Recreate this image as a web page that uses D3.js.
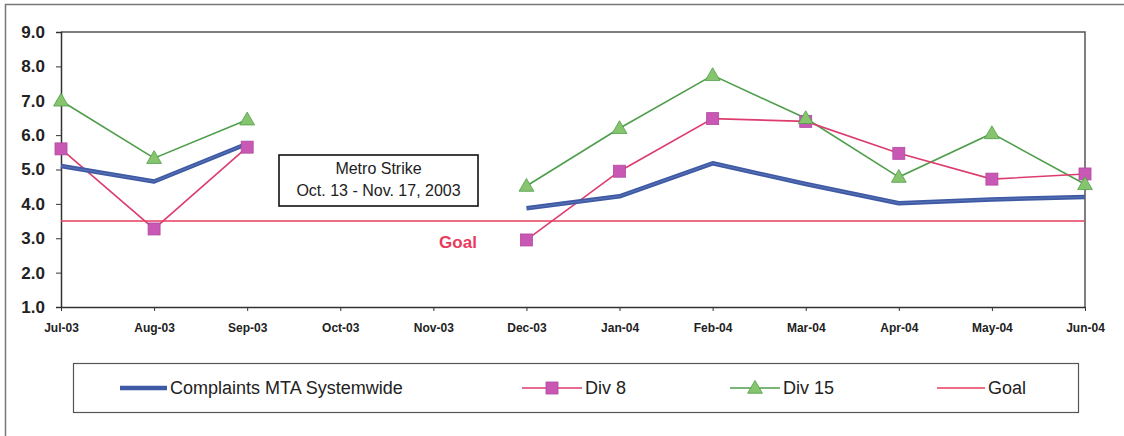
<!DOCTYPE html>
<html>
<head>
<meta charset="utf-8">
<script src="https://cdn.jsdelivr.net/npm/d3@7"></script>
<style>
  html, body { margin: 0; padding: 0; background: #fff; }
  svg { display: block; font-family: Arial, "Liberation Sans", sans-serif; }
</style>
</head>
<body>
<svg id="chart" width="1124" height="436"></svg>
<script>
// Monthly categories (Oct/Nov 2003 have no data: Metro strike)
const months = ["Jul-03","Aug-03","Sep-03","Oct-03","Nov-03","Dec-03","Jan-04","Feb-04","Mar-04","Apr-04","May-04","Jun-04"];
const systemwide = [5.10, 4.65, 5.75, null, null, 3.87, 4.22, 5.18, 4.58, 4.02, 4.13, 4.20];
const div8       = [5.60, 3.27, 5.65, null, null, 2.95, 4.95, 6.48, 6.40, 5.47, 4.72, 4.87];
const div15      = [7.00, 5.33, 6.45, null, null, 4.52, 6.20, 7.74, 6.49, 4.78, 6.05, 4.57];
const goal       = [3.5, 3.5, 3.5, 3.5, 3.5, 3.5, 3.5, 3.5, 3.5, 3.5, 3.5, 3.5];
const yTicks = [1, 2, 3, 4, 5, 6, 7, 8, 9];
const legendLabels = ["Complaints MTA Systemwide", "Div 8", "Div 15", "Goal"];

const svg = d3.select("#chart");

const C = {
  blue: "#3f5aa4",
  blueLight: "#6d85c4",
  pinkLine: "#dc3d6e",
  magenta: "#c958b4",
  green: "#4f9e4c",
  greenFill: "#86c46e",
  goal: "#e83c5e",
  frame: "#555"
};

const x = d3.scalePoint().domain(months).range([61, 1085]);
const y = d3.scaleLinear().domain([1, 9]).range([307, 32]);

// outer frame
svg.append("rect")
  .attr("x", 5.5).attr("y", 4.5).attr("width", 1130).attr("height", 450)
  .attr("fill", "none").attr("stroke", "#777").attr("stroke-width", 1.5);

// plot area border (top & right)
svg.append("path")
  .attr("d", `M${x.range()[0]},${y(9)} H${x.range()[1]} V${y(1)}`)
  .attr("fill", "none").attr("stroke", C.frame).attr("stroke-width", 1.5);

// y axis
const yAxis = svg.append("g")
  .attr("transform", `translate(${x.range()[0]},0)`)
  .call(d3.axisLeft(y).tickValues(yTicks).tickFormat(d3.format(".1f")).tickSize(5).tickPadding(11));
yAxis.select(".domain").attr("stroke", "#333").attr("stroke-width", 1.5);
yAxis.selectAll(".tick line").attr("stroke", "#333");
yAxis.selectAll("text").attr("font-size", 17).attr("font-weight", "bold").attr("fill", "#222")
  .attr("font-family", "Arial, 'Liberation Sans', sans-serif");

// x axis
const xAxis = svg.append("g")
  .attr("transform", `translate(0,${y(1)})`)
  .call(d3.axisBottom(x).tickSize(4).tickSizeOuter(0).tickPadding(12));
xAxis.select(".domain").attr("stroke", "#333").attr("stroke-width", 1.5);
xAxis.selectAll(".tick line").attr("stroke", "#333");
xAxis.selectAll("text").attr("font-size", 12).attr("font-weight", "bold").attr("fill", "#222")
  .attr("font-family", "'Liberation Sans Narrow', Arial, 'Liberation Sans', sans-serif");

const line = d3.line()
  .defined(d => d != null)
  .x((d, i) => x(months[i]))
  .y(d => y(d));

// goal line
svg.append("path").datum(goal)
  .attr("d", line).attr("fill", "none")
  .attr("stroke", C.goal).attr("stroke-width", 1.6);

svg.append("text")
  .attr("x", 458).attr("y", 248)
  .attr("text-anchor", "middle")
  .attr("font-size", 17).attr("font-weight", "bold").attr("fill", C.goal)
  .text("Goal");

// strike annotation
const ann = svg.append("g");
ann.append("rect")
  .attr("x", 279).attr("y", 155).attr("width", 199).attr("height", 51)
  .attr("fill", "#fff").attr("stroke", "#111").attr("stroke-width", 1.6);
ann.append("text").attr("x", 378.5).attr("y", 174).attr("text-anchor", "middle")
  .attr("font-size", 16).attr("fill", "#222").text("Metro Strike");
ann.append("text").attr("x", 378.5).attr("y", 196).attr("text-anchor", "middle")
  .attr("font-size", 16).attr("fill", "#222").text("Oct. 13 - Nov. 17, 2003");

// Div 15
svg.append("path").datum(div15)
  .attr("d", line).attr("fill", "none")
  .attr("stroke", C.green).attr("stroke-width", 1.6);

// Div 8
svg.append("path").datum(div8)
  .attr("d", line).attr("fill", "none")
  .attr("stroke", C.pinkLine).attr("stroke-width", 1.6);

// Systemwide (thick blue)
svg.append("path").datum(systemwide)
  .attr("d", line).attr("fill", "none")
  .attr("stroke", C.blue).attr("stroke-width", 4.5).attr("stroke-linejoin", "round");
svg.append("path").datum(systemwide)
  .attr("d", line).attr("fill", "none")
  .attr("stroke", C.blueLight).attr("stroke-width", 1).attr("opacity", 0.6);

const tri = d3.symbol().type(d3.symbolTriangle).size(95);

// Div 8 markers
svg.append("g").selectAll("rect")
  .data(div8.map((v, i) => ({v, i})).filter(d => d.v != null))
  .join("rect")
  .attr("x", d => x(months[d.i]) - 6).attr("y", d => y(d.v) - 6)
  .attr("width", 12).attr("height", 12)
  .attr("fill", C.magenta).attr("stroke", "#b04a9e").attr("stroke-width", 0.8);

// Div 15 markers
svg.append("g").selectAll("path")
  .data(div15.map((v, i) => ({v, i})).filter(d => d.v != null))
  .join("path")
  .attr("d", tri)
  .attr("transform", d => `translate(${x(months[d.i])},${y(d.v) + 1})`)
  .attr("fill", C.greenFill).attr("stroke", C.green).attr("stroke-width", 0.8);

// legend
const lg = svg.append("g");
lg.append("rect")
  .attr("x", 73.5).attr("y", 363.5).attr("width", 1005).attr("height", 49)
  .attr("fill", "#fff").attr("stroke", "#555").attr("stroke-width", 1.2);

const ly = 388;
const items = [
  {x0: 120, x1: 167, stroke: C.blue, w: 4.5, marker: null},
  {x0: 522, x1: 582, stroke: C.pinkLine, w: 1.6, marker: "square"},
  {x0: 730, x1: 780, stroke: C.green, w: 1.6, marker: "triangle"},
  {x0: 937, x1: 985, stroke: C.goal, w: 1.6, marker: null}
];
items.forEach((it, k) => {
  lg.append("line").attr("x1", it.x0).attr("x2", it.x1).attr("y1", ly).attr("y2", ly)
    .attr("stroke", it.stroke).attr("stroke-width", it.w);
  const cx = (it.x0 + it.x1) / 2;
  if (it.marker === "square") {
    lg.append("rect").attr("x", cx - 6).attr("y", ly - 6).attr("width", 12).attr("height", 12)
      .attr("fill", C.magenta).attr("stroke", "#b04a9e").attr("stroke-width", 0.8);
  } else if (it.marker === "triangle") {
    lg.append("path").attr("d", tri).attr("transform", `translate(${cx},${ly + 1})`)
      .attr("fill", C.greenFill).attr("stroke", C.green).attr("stroke-width", 0.8);
  }
  lg.append("text").attr("x", it.x1 + 3).attr("y", ly + 6)
    .attr("font-size", 18).attr("fill", "#222").text(legendLabels[k]);
});
</script>
</body>
</html>
